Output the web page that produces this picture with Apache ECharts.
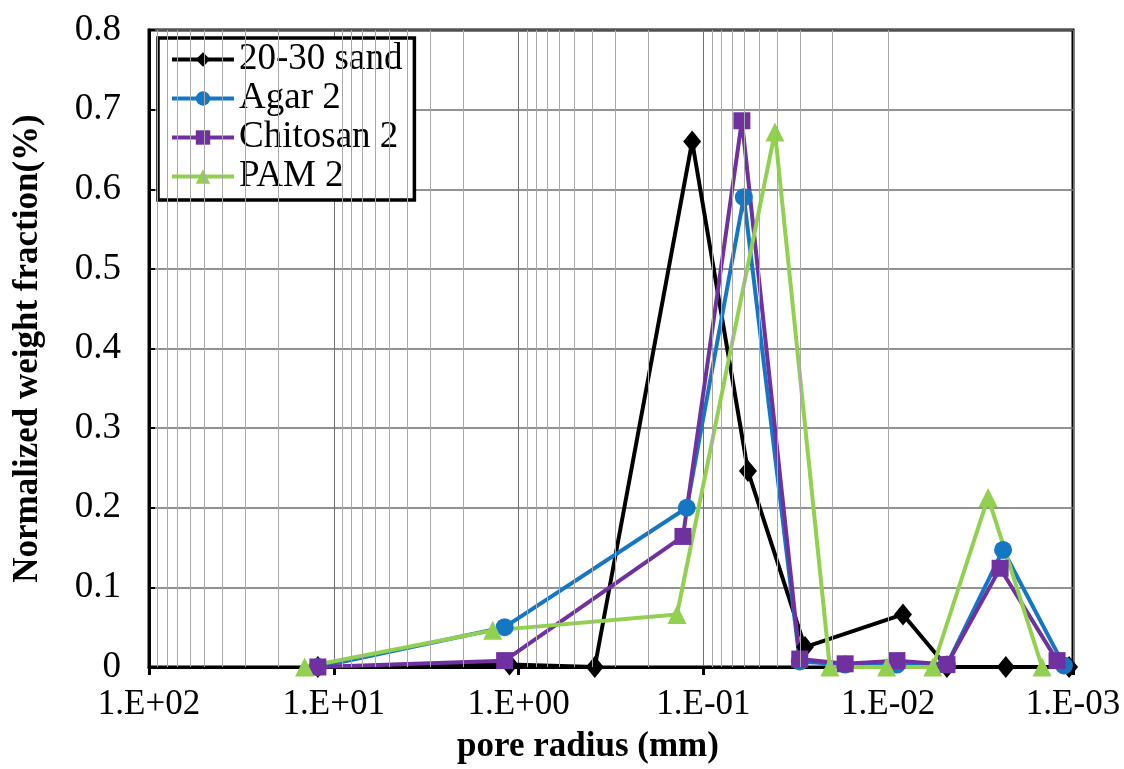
<!DOCTYPE html>
<html>
<head>
<meta charset="utf-8">
<script src="https://cdn.jsdelivr.net/npm/echarts@6/dist/echarts.min.js"></script>
<style>
html,body{margin:0;padding:0;background:#fff;}
#chart{width:1124px;height:769px;}
</style>
</head>
<body>
<div id="chart"></div>
<script>
// pore radius (mm), normalized weight fraction
var sandX   = [12.2, 1.12, 0.387, 0.115, 0.0574, 0.0282, 0.00832, 0.00481, 0.00231, 0.00105];
var sandY   = [0, 0.003, 0, 0.66, 0.246, 0.025, 0.066, 0, 0, 0];
var agarX   = [12.2, 1.19, 0.123, 0.0604, 0.0301, 0.0171, 0.00897, 0.00481, 0.00239, 0.00112];
var agarY   = [0, 0.05, 0.2, 0.59, 0.007, 0.003, 0.003, 0.003, 0.147, 0.002];
var chitX   = [12.2, 1.19, 0.129, 0.0619, 0.0301, 0.0171, 0.00897, 0.00481, 0.00248, 0.00122];
var chitY   = [0, 0.008, 0.164, 0.686, 0.01, 0.004, 0.008, 0.003, 0.124, 0.008];
var pamX    = [14.4, 1.38, 0.139, 0.0410, 0.0207, 0.0102, 0.00573, 0.00288, 0.00147];
var pamY    = [0, 0.046, 0.066, 0.672, 0, 0, 0, 0.213, 0];
var seriesNames = ['20-30 sand', 'Agar 2', 'Chitosan 2', 'PAM 2'];
var xTickLabels = ['1.E+02', '1.E+01', '1.E+00', '1.E-01', '1.E-02', '1.E-03'];
var yTickLabels = ['0', '0.1', '0.2', '0.3', '0.4', '0.5', '0.6', '0.7', '0.8'];

function pairs(xs, ys){ return xs.map(function(x,i){ return [x, ys[i]]; }); }

// minor log grid lines (2..9 x 10^k)
var minorLines = [];
for (var k = -3; k <= 1; k++) {
  for (var m = 2; m <= 9; m++) minorLines.push({xAxis: m * Math.pow(10, k)});
}

var chart = echarts.init(document.getElementById('chart'), null, {renderer: 'canvas'});
var serif = 'Liberation Serif';
var lineW = 4;

function mkSeries(name, data, color, symbol, size) {
  return {
    name: name, type: 'line', data: data, symbol: symbol, symbolSize: size,
    showAllSymbol: true, z: 3,
    lineStyle: {color: color, width: lineW},
    itemStyle: {color: color, borderWidth: 0}
  };
}

chart.setOption({
  animation: false,
  backgroundColor: '#fff',
  grid: {left: 149, right: 51, top: 30, bottom: 96, show: true, borderColor: '#000', borderWidth: 3, backgroundColor: 'transparent'},
  legend: {
    data: seriesNames, orient: 'vertical', left: 158, top: 38,
    padding: [3, 12, 5, 12], itemGap: 2, itemWidth: 62, itemHeight: 18,
    borderColor: '#000', borderWidth: 3.5, backgroundColor: '#fff',
    lineStyle: {width: 4},
    textStyle: {fontFamily: serif, fontSize: 37, color: '#000', lineHeight: 36}
  },
  xAxis: {
    type: 'log', logBase: 10, min: 0.001, max: 100, inverse: true,
    name: 'pore radius (mm)', nameLocation: 'middle', nameGap: 62,
    nameTextStyle: {fontFamily: serif, fontSize: 35, fontWeight: 'bold', color: '#000', verticalAlign: 'top', padding: [0, 46, 0, 0]},
    axisLine: {show: true, onZero: false, lineStyle: {color: '#000', width: 3}},
    axisTick: {show: true, inside: false, length: 8, lineStyle: {color: '#000', width: 3}},
    axisLabel: {
      fontFamily: serif, fontSize: 35, color: '#000', margin: 20, showMinLabel: true, showMaxLabel: true,
      formatter: function(v){
        var e = Math.round(Math.log10(v));
        return xTickLabels[2 - e];
      }
    },
    splitLine: {show: true, lineStyle: {color: '#707070', width: 1}}
  },
  yAxis: {
    type: 'value', min: 0, max: 0.8, interval: 0.1,
    name: 'Normalized weight fraction(%)', nameLocation: 'middle', nameGap: 104, nameRotate: 90,
    nameTextStyle: {fontFamily: serif, fontSize: 35, fontWeight: 'bold', color: '#000'},
    axisLine: {show: true, lineStyle: {color: '#000', width: 3}},
    axisTick: {show: true, inside: true, length: 6, lineStyle: {color: '#000', width: 2}},
    axisLabel: {
      fontFamily: serif, fontSize: 37, color: '#000', margin: 28,
      formatter: function(v){ return yTickLabels[Math.round(v * 10)]; }
    },
    splitLine: {show: true, lineStyle: {color: '#6e6e6e', width: 1.5}}
  },
  series: [
    {
      name: 'minor-grid', type: 'line', data: [], z: 1, silent: true,
      markLine: {
        silent: true, symbol: ['none', 'none'], animation: false,
        label: {show: false},
        lineStyle: {color: '#a8a8a8', width: 1, type: 'solid'},
        data: minorLines
      }
    },
    mkSeries(seriesNames[0], pairs(sandX, sandY), '#000000', 'diamond', [18, 22]),
    mkSeries(seriesNames[1], pairs(agarX, agarY), '#1577C4', 'circle', 18),
    mkSeries(seriesNames[2], pairs(chitX, chitY), '#7030A0', 'rect', 17),
    mkSeries(seriesNames[3], pairs(pamX, pamY), '#92D050', 'triangle', 19)
  ]
});
</script>
</body>
</html>
